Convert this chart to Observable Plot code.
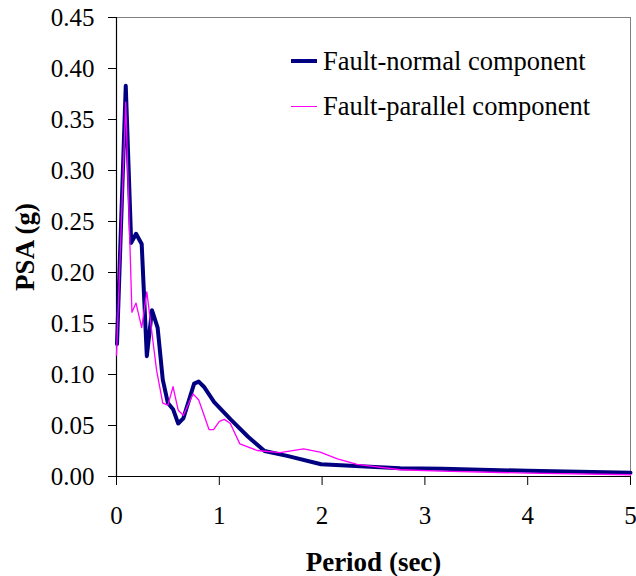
<!DOCTYPE html>
<html><head><meta charset="utf-8">
<script src="https://cdn.jsdelivr.net/npm/d3@7"></script>
<script src="https://cdn.jsdelivr.net/npm/@observablehq/plot@0.6"></script>
<style>
body{margin:0;background:#fff;}
#wrap{position:relative;width:636px;height:576px;font-family:"Liberation Serif","Times New Roman",serif;}
.leg{position:absolute;left:291px;height:30px;width:340px;font-size:26.5px;line-height:26.5px;white-space:nowrap;color:#000;}
.leg .sw{position:absolute;left:0;width:26px;height:0;}
.leg .tx{position:absolute;left:32px;top:0;}
</style></head><body><div id="wrap"></div>
<script>
// Data
const normalPeriod = [0.005,0.09,0.143,0.19,0.245,0.295,0.345,0.40,0.45,0.50,0.55,0.60,0.65,0.755,0.80,0.85,0.95,1.11,1.28,1.44,1.67,1.99,2.42,2.76,3.17,4.0,5.0];
const normalPSA    = [0.130,0.383,0.229,0.238,0.228,0.118,0.163,0.146,0.095,0.072,0.066,0.052,0.057,0.091,0.093,0.088,0.073,0.056,0.039,0.025,0.020,0.012,0.0098,0.0081,0.0075,0.0056,0.0037];
const parallelPeriod = [0.0,0.09,0.15,0.19,0.245,0.295,0.39,0.45,0.50,0.55,0.60,0.65,0.745,0.80,0.90,0.945,1.00,1.05,1.107,1.20,1.37,1.59,1.82,1.98,2.15,2.34,2.76,3.15,4.0,5.0];
const parallelPSA    = [0.119,0.367,0.161,0.170,0.146,0.181,0.104,0.072,0.070,0.088,0.065,0.060,0.081,0.075,0.046,0.046,0.054,0.056,0.052,0.032,0.0255,0.0235,0.027,0.024,0.0173,0.0118,0.0066,0.0052,0.0033,0.0017];
const seriesNames = ["Fault-normal component","Fault-parallel component"];
const seriesColors = ["#000080","#FF00FF"];
const xTicks = [0,1,2,3,4,5];
const yTicks = [0,0.05,0.10,0.15,0.20,0.25,0.30,0.35,0.40,0.45];
const xTitle = "Period (sec)";
const yTitle = "PSA (g)";

const normal = normalPeriod.map((p,i)=>({period:p, psa:normalPSA[i]}));
const parallel = parallelPeriod.map((p,i)=>({period:p, psa:parallelPSA[i]}));

const plot = Plot.plot({
  width:636, height:576,
  marginLeft:116, marginRight:6, marginTop:17, marginBottom:100,
  style:{fontFamily:'"Liberation Serif","Times New Roman",serif', fontSize:"25px", background:"#fff", color:"#000"},
  x:{domain:[0,5]},
  y:{domain:[0,0.45]},
  marks:[
    Plot.frame({stroke:"#808080"}),
    Plot.axisX({ticks:xTicks, tickSize:9, tickPadding:21, tickFormat:d3.format("d"),
      label:xTitle, labelAnchor:"center", labelOffset:94, labelArrow:"none"}),
    Plot.axisY({ticks:yTicks, tickSize:8, tickPadding:14, tickFormat:d3.format(".2f"),
      label:yTitle, labelAnchor:"center", labelOffset:102, labelArrow:"none"}),
    Plot.ruleY([0],{stroke:"#000", strokeWidth:1.2}),
    Plot.ruleX([0],{stroke:"#000", strokeWidth:1.2}),
    Plot.line(normal,{x:"period", y:"psa", stroke:seriesColors[0], strokeWidth:4, strokeLinejoin:"round"}),
    Plot.line(parallel,{x:"period", y:"psa", stroke:seriesColors[1], strokeWidth:1.3})
  ]
});
d3.select(plot).selectAll('g[aria-label="x-axis label"] text, g[aria-label="y-axis label"] text')
  .attr("font-weight","bold").attr("font-size","27px");
const wrap = document.getElementById("wrap");
wrap.appendChild(plot);

// Legend
const legRows = [
  {top:48, swTop:11, sw:"4px"},
  {top:93, swTop:13, sw:"1.4px"}
];
seriesNames.forEach((name,i)=>{
  const row = document.createElement("div");
  row.className="leg";
  row.style.top = legRows[i].top+"px";
  const sw = document.createElement("span");
  sw.className="sw";
  sw.style.top = legRows[i].swTop+"px";
  sw.style.borderTop = legRows[i].sw+" solid "+seriesColors[i];
  const tx = document.createElement("span");
  tx.className="tx";
  tx.textContent = name;
  row.appendChild(sw); row.appendChild(tx);
  wrap.appendChild(row);
});
</script></body></html>
